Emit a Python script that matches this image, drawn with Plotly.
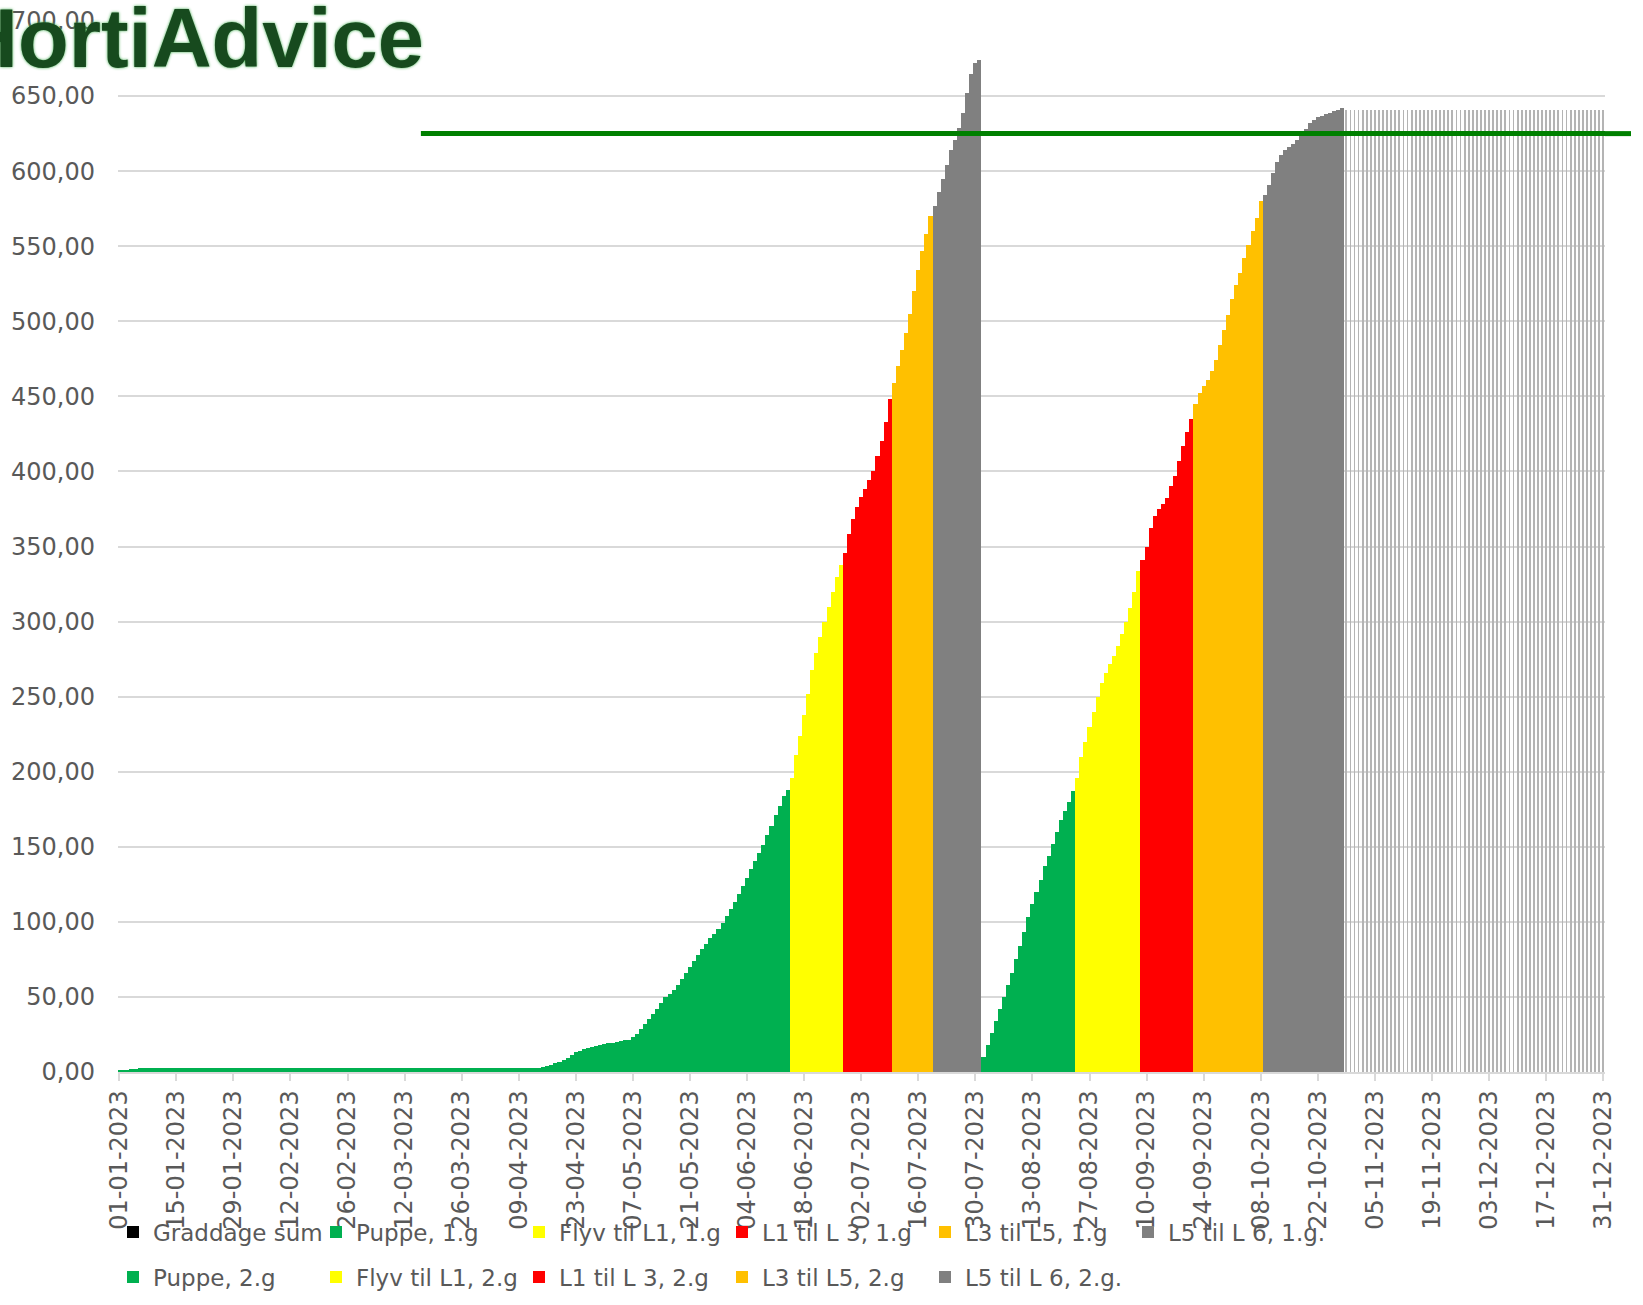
import pandas as pd
import plotly.graph_objects as go

DAY_MS = 86400000

# ---------------- data (cumulative degree days) ----------------
puppe_1g_start = "2023-01-01"
puppe_1g = [
    1.5, 1.6, 1.6, 1.7, 1.8,
    2.5, 2.5, 2.5, 2.5, 2.5, 2.5, 2.5, 2.5, 2.5, 2.5, 2.5, 2.5, 2.5,
    2.5, 2.5, 2.5, 2.5, 2.5, 2.5, 2.5, 2.5, 2.5, 2.5, 2.5, 2.5, 2.5,
    2.5, 2.5, 2.5, 2.5, 2.5, 2.5, 2.5, 2.5, 2.5, 2.5, 2.5, 2.5, 2.5,
    2.5, 2.5, 2.5, 2.5, 2.5, 2.5, 2.5, 2.5, 2.5, 2.5, 2.5, 2.5, 2.5,
    2.5, 2.5, 2.5, 2.5, 2.5, 2.5, 2.5, 2.5, 2.5, 2.5, 2.5, 2.5, 2.5,
    3.0, 3.0, 3.0, 3.0, 3.0, 3.0, 3.0, 3.0, 3.0, 3.0, 3.0, 3.0, 3.0, 3.0, 3.0, 3.0, 3.0,
    3.0, 3.0, 3.0, 3.0, 3.0, 3.0, 3.0, 3.0, 3.0, 3.0, 3.0, 3.0, 3.0, 3.0, 3.0, 3.0, 3.0,
    3.3, 4.0, 4.8, 5.7, 6.7, 8.0, 9.6, 11.5, 13.2,
    14, 15, 16, 16.5, 17, 18, 18.5, 19, 19.5, 20, 20.5, 21, 21.5,
    23, 25, 28.5, 32, 35, 38.5, 42, 46, 50, 52, 54.5, 58, 62,
    66, 70, 74, 78, 82, 85.5, 89, 92, 95.5, 99.5, 104, 108.5, 113,
    118.5, 124, 129.5, 135, 140.5, 146, 151.5, 158, 164, 171, 177.5, 184, 188,
]
flyv_1g_start = "2023-06-15"
flyv_1g = [196, 211, 224, 238, 252, 268, 279, 290, 300, 310, 320, 330, 338]
l1l3_1g_start = "2023-06-28"
l1l3_1g = [346, 358, 368, 376, 383, 388, 394, 400, 410, 420, 433, 448]
l3l5_1g_start = "2023-07-10"
l3l5_1g = [459, 470, 481, 492, 505, 520, 534, 547, 558, 570]
l5l6_1g_start = "2023-07-20"
l5l6_1g = [577, 586, 595, 604, 614, 621, 629, 639, 652, 665, 672, 674]

puppe_2g_start = "2023-08-01"
puppe_2g = [10, 18, 26, 34, 42, 50, 58, 66, 75, 84, 93, 103, 112, 120, 128, 137,
            144, 152, 160, 168, 174, 180, 187]
flyv_2g_start = "2023-08-24"
flyv_2g = [196, 210, 220, 230, 240, 250, 259, 266, 272, 277, 284, 292, 300, 309, 320, 334]
l1l3_2g_start = "2023-09-09"
l1l3_2g = [341, 350, 362, 370, 375, 378, 382, 390, 397, 407, 417, 426, 435]
l3l5_2g_start = "2023-09-22"
l3l5_2g = [445, 452, 457, 461, 467, 474, 484, 494, 504, 515, 524, 532, 542, 551, 560, 569, 580]
l5l6_2g_start = "2023-10-09"
l5l6_2g = [584, 591, 599, 606, 611, 614, 616, 618, 621, 624, 628, 632, 634, 636, 637, 638,
           639, 640, 641, 642]

graddage_start = "2023-10-29"
graddage_sum = [
    641, 641, 641, 641, 641, 641, 641, 641, 641, 641, 641, 641, 641, 641, 641, 641,
    641, 641, 641, 641, 641, 641, 641, 641, 641, 641, 641, 641, 641, 641, 641, 641,
    641, 641, 641, 641, 641, 641, 641, 641, 641, 641, 641, 641, 641, 641, 641, 641,
    641, 641, 641, 641, 641, 641, 641, 641, 641, 641, 641, 641, 641, 641, 641, 641,
]

threshold_value = 625
threshold_start = "2023-03-16"
threshold_end = "2024-01-07"

x_range = ["2022-12-31 17:00", "2023-12-31 10:30"]
tick_start = "2023-01-01"
tick_step_days = 14
y_ticks = [0, 50, 100, 150, 200, 250, 300, 350, 400, 450, 500, 550, 600, 650, 700]

# ---------------- series styling ----------------
series = [
    ("Puppe, 1.g", puppe_1g_start, puppe_1g, "#00B050", "legend"),
    ("Flyv til L1, 1.g", flyv_1g_start, flyv_1g, "#FFFF00", "legend"),
    ("L1 til L 3, 1.g", l1l3_1g_start, l1l3_1g, "#FF0000", "legend"),
    ("L3 til L5, 1.g", l3l5_1g_start, l3l5_1g, "#FFC000", "legend"),
    ("L5 til L 6, 1.g.", l5l6_1g_start, l5l6_1g, "#808080", "legend"),
    ("Puppe, 2.g", puppe_2g_start, puppe_2g, "#00B050", "legend2"),
    ("Flyv til L1, 2.g", flyv_2g_start, flyv_2g, "#FFFF00", "legend2"),
    ("L1 til L 3, 2.g", l1l3_2g_start, l1l3_2g, "#FF0000", "legend2"),
    ("L3 til L5, 2.g", l3l5_2g_start, l3l5_2g, "#FFC000", "legend2"),
    ("L5 til L 6, 2.g.", l5l6_2g_start, l5l6_2g, "#808080", "legend2"),
]

FONT = "DejaVu Sans"
TXT = "#595959"
GRID = "#d9d9d9"
LINE_GREEN = "#008000"

fig = go.Figure()

# legend entry for the overall degree-day sum (black key)
fig.add_trace(go.Bar(x=[None], y=[None], name="Graddage sum",
                     marker=dict(color="#000000", line=dict(width=0)),
                     legend="legend", hoverinfo="skip"))

# thin bars of the degree-day sum after the last phase
fig.add_trace(go.Bar(
    x=pd.date_range(graddage_start, periods=len(graddage_sum), freq="D"),
    y=graddage_sum, width=0.2 * DAY_MS,
    marker=dict(color="#b4b4b4", line=dict(width=0)),
    showlegend=False, hoverinfo="skip"))

for name, start, vals, color, leg in series:
    fig.add_trace(go.Bar(
        x=pd.date_range(start, periods=len(vals), freq="D"),
        y=vals, width=DAY_MS, name=name,
        marker=dict(color=color, line=dict(width=0)),
        legend=leg))

fig.add_trace(go.Scatter(
    x=[threshold_start, threshold_end], y=[threshold_value, threshold_value],
    mode="lines", line=dict(color=LINE_GREEN, width=5),
    showlegend=False, cliponaxis=False, hoverinfo="skip"))

legend_common = dict(
    orientation="h", xref="container", yref="container",
    x=113 / 1643, xanchor="left", yanchor="middle",
    bgcolor="rgba(0,0,0,0)", font=dict(family=FONT, size=23, color=TXT),
    entrywidth=158, entrywidthmode="pixels", itemwidth=30,
    traceorder="normal",
)

fig.update_layout(
    width=1643, height=1305,
    margin=dict(l=118, r=38, t=21, b=233, autoexpand=False),
    plot_bgcolor="white", paper_bgcolor="white",
    font=dict(family=FONT, color=TXT, size=24),
    separators=", ",
    barmode="overlay", bargap=0,
    legend=dict(legend_common, y=1 - 1232 / 1305),
    legend2=dict(legend_common, y=1 - 1277 / 1305),
    xaxis=dict(
        type="date", range=x_range,
        tick0=tick_start, dtick=tick_step_days * DAY_MS,
        tickformat="%d-%m-%Y", tickangle=-90,
        tickfont=dict(family=FONT, size=24, color=TXT),
        ticks="outside", ticklen=7, tickwidth=1.5, tickcolor=GRID,
        showline=True, linecolor=GRID, linewidth=1.5,
        showgrid=False, zeroline=False,
    ),
    yaxis=dict(
        range=[0, 700], tickvals=y_ticks, tickformat=".2f",
        tickfont=dict(family=FONT, size=24, color=TXT),
        showgrid=True, gridcolor=GRID, gridwidth=1.5,
        zeroline=False, showline=False, ticks="",
        ticklabelstandoff=22,
    ),
    # the threshold line runs on past the right edge of the plot area
    shapes=[dict(type="line", xref="paper", yref="y",
                 x0=1.0, x1=1.0175, y0=threshold_value, y1=threshold_value,
                 line=dict(color=LINE_GREEN, width=5), layer="above")],
    annotations=[dict(
        text="<b>HortiAdvice</b>", xref="paper", yref="paper",
        x=-0.1087, y=0.983, xanchor="left", yanchor="middle",
        showarrow=False,
        font=dict(family="Liberation Sans", size=83, color="#174a1e",
                  shadow="0px 0px 3px #3aa848"),
    )],
)

fig.write_html("out.html", include_plotlyjs=True, full_html=True,
               config={"displayModeBar": False},
               post_script="document.body.style.margin='0px';document.body.style.overflow='hidden';")
